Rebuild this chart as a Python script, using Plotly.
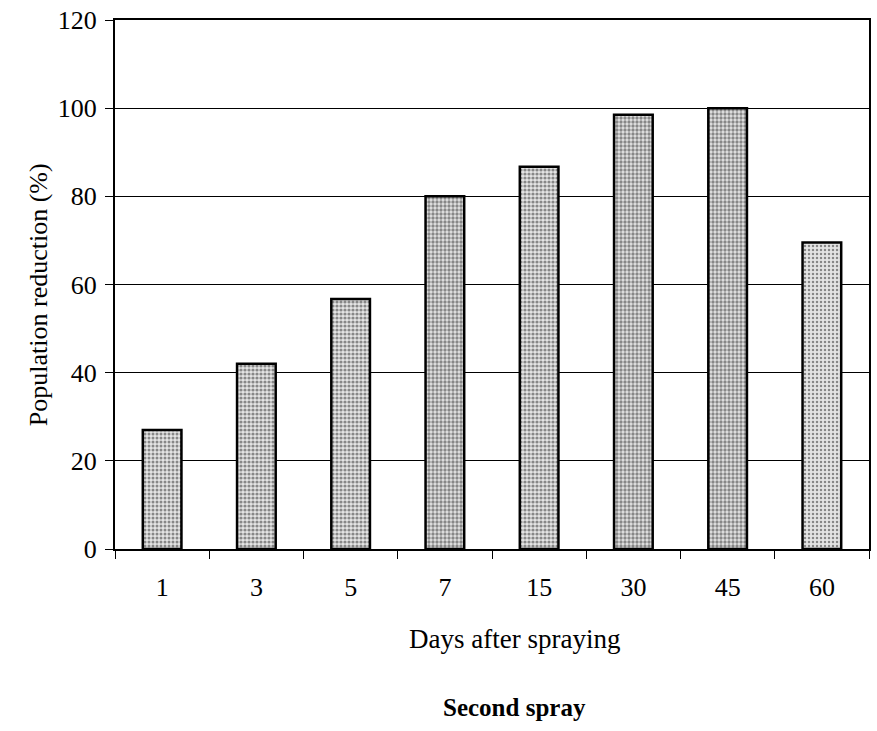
import plotly.graph_objects as go

# Days after the second spray and the resulting population reduction (%)
days = ["1", "3", "5", "7", "15", "30", "45", "60"]
reduction = [27, 42, 56.7, 80, 86.7, 98.5, 100, 69.5]
y_ticks = [0, 20, 40, 60, 80, 100, 120]

# stipple density per bar (the last bar is printed lighter)
stipple = [0.45, 0.5, 0.5, 0.55, 0.5, 0.55, 0.55, 0.3]

SERIF = "Liberation Serif, Times New Roman, serif"

fig = go.Figure(
    go.Bar(
        x=days,
        y=reduction,
        width=0.41,
        marker=dict(
            color="#e4e4e4",
            line=dict(color="black", width=2.5),
            pattern=dict(shape=".", fgcolor="#2a2a2a", bgcolor="#e4e4e4",
                         size=4, solidity=stipple),
        ),
        showlegend=False,
    )
)

fig.update_layout(
    width=877,
    height=731,
    margin=dict(l=115, r=6, t=14, b=182),
    paper_bgcolor="white",
    plot_bgcolor="white",
    font=dict(family=SERIF, color="black", size=26),
    annotations=[
        dict(text="Population reduction (%)", textangle=-90,
             xref="paper", yref="paper", x=-0.102, y=0.48,
             xanchor="center", yanchor="middle", showarrow=False,
             font=dict(family=SERIF, size=26, color="black")),
        dict(text="Days after spraying",
             xref="paper", yref="paper", x=0.53, y=-0.17,
             xanchor="center", yanchor="middle", showarrow=False,
             font=dict(family=SERIF, size=27, color="black")),
        dict(text="<b>Second spray</b>",
             xref="paper", yref="paper", x=0.53, y=-0.30,
             xanchor="center", yanchor="middle", showarrow=False,
             font=dict(family=SERIF, size=25, color="black")),
    ],
)

fig.update_yaxes(
    range=[0, 120],
    tickvals=y_ticks,
    showgrid=True, gridcolor="black", gridwidth=1,
    zeroline=False,
    showline=True, linecolor="black", linewidth=2, mirror=True,
    ticks="outside", ticklen=8, tickcolor="black", tickwidth=1,
    ticklabelstandoff=3,
    tickfont=dict(family=SERIF, size=26, color="black"),
)
fig.update_xaxes(
    type="category",
    showgrid=False,
    showline=True, linecolor="black", linewidth=2, mirror=True,
    ticks="outside", tickson="boundaries", ticklen=8, tickcolor="black", tickwidth=1,
    ticklabelstandoff=14,
    tickfont=dict(family=SERIF, size=26, color="black"),
)

fig.write_html("out.html")
